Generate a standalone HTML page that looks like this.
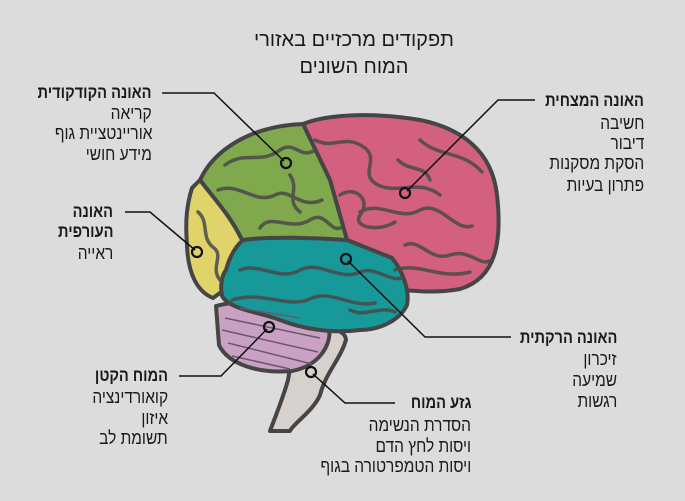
<!DOCTYPE html>
<html><head><meta charset="utf-8"><style>
body{margin:0;width:685px;height:501px;background:#dcdcdc;overflow:hidden;position:relative;font-family:"Liberation Sans","DejaVu Sans",sans-serif;color:#1a1a1a}
.t{position:absolute;direction:rtl;white-space:nowrap;font-size:18px;line-height:20px;transform:scaleX(0.86);transform-origin:right center}
.h{font-weight:bold;font-size:17px}
.ti{position:absolute;left:0;width:708px;text-align:center;direction:rtl;font-size:20px;line-height:24px}
svg{position:absolute;left:0;top:0}
</style></head><body>
<svg width="685" height="501" viewBox="0 0 685 501">
<g stroke="#454545" stroke-width="4" stroke-linejoin="round">
<path d="M300,335 C318,326 345,326 346,340 C340,360 326,372 320,395 C314,410 292,425 290,431 L270,431 C276,415 284,395 288,380 C292,360 290,345 300,335 Z" fill="#d6d1cc"/>
<path d="M216,306 C245,298 300,301 328,320 C335,345 318,366 292,371 C258,374 228,364 219,345 Z" fill="#c9a2c3"/>
<path d="M303,124 C330,113 380,113 420,120 C460,128 492,150 497,195 C502,240 497,278 460,289 C432,294 412,290 400,290 L392,258 L347,240 L330,180 Z" fill="#d4607f"/>
<path d="M200,180 C214,150 250,126 303,124 L330,180 L347,240 L242,240 C230,215 215,200 200,180 Z" fill="#7fa94c"/>
<path d="M192,188 L200,180 C215,200 230,215 242,240 L224,290 L213,298 C198,292 188,275 187,245 C185,220 187,204 192,188 Z" fill="#dfd36a"/>
<path d="M243,240 C270,236 320,238 347,240 L392,258 C402,270 410,290 407,305 C400,320 380,330 360,330 C330,334 300,328 280,320 C260,312 230,310 222,296 C220,285 222,275 226,270 C230,255 236,246 243,240 Z" fill="#17999a"/>
</g>
<g fill="none" stroke="#4a4a4a" stroke-width="3.5" stroke-linecap="round" opacity="0.85">
<path d="M315,140 C335,150 345,133 365,148 C380,160 358,175 378,185 C398,195 418,178 440,195"/>
<path d="M340,195 C355,185 372,200 360,215 C352,228 380,232 395,222"/>
<path d="M360,212 C380,200 400,222 420,210 C440,200 455,232 472,226"/>
<path d="M405,245 C420,238 430,262 450,255 C470,248 480,268 492,260"/>
<path d="M420,140 C440,158 462,150 482,172"/>
<path d="M398,160 C410,172 425,165 430,180"/>
<path d="M395,270 C420,262 440,280 470,272"/>
<path d="M225,165 C245,150 260,165 280,150 C295,140 300,160 315,150"/>
<path d="M218,190 C240,182 255,205 275,195 C290,187 300,210 322,200"/>
<path d="M260,228 C270,212 290,232 310,220 C325,210 330,232 340,228"/>
<path d="M290,175 C300,190 285,200 300,212"/>
<path d="M240,270 C260,262 280,282 300,270 C320,260 340,282 360,272 C375,266 390,282 402,278"/>
<path d="M232,300 C262,290 290,310 312,298 C332,290 352,308 375,303"/>
<path d="M350,310 C365,318 380,305 395,312"/>
<path d="M198,212 C210,222 200,238 214,248 C224,256 210,268 220,280"/>
</g>
<g fill="none" stroke="#6b5670" stroke-width="1.5">
<path d="M225,318 L320,338 M222,330 L318,352 M228,343 L312,364 M232,356 L290,369 M240,308 L300,318"/>
</g>
<g fill="none" stroke="#111" stroke-width="1.5">
<polyline points="162,93 214,93 284,161"/>
<polyline points="535,100 498,100 407,191"/>
<polyline points="125,212 150,212 195,250"/>
<polyline points="511,337 425,337 348,261"/>
<polyline points="179,376 221,376 267,329"/>
<polyline points="395,403 345,403 313,374"/>
</g>
<g fill="none" stroke="#111" stroke-width="2.2">
<circle cx="286" cy="163" r="5"/><circle cx="405" cy="193" r="5"/><circle cx="197" cy="252" r="5"/>
<circle cx="346" cy="259" r="5"/><circle cx="269" cy="327" r="5"/><circle cx="311" cy="372" r="5"/>
</g>
</svg>
<div class="ti" style="top:28px">תפקודים מרכזיים באזורי</div>
<div class="ti" style="top:55px">המוח השונים</div>

<div class="t h" style="right:533px;top:83px">האונה הקודקודית</div>
<div class="t" style="right:533px;top:103px">קריאה</div>
<div class="t" style="right:533px;top:123px">אוריינטציית גוף</div>
<div class="t" style="right:533px;top:144px">מידע חושי</div>

<div class="t h" style="right:41px;top:91px">האונה המצחית</div>
<div class="t" style="right:41px;top:113px">חשיבה</div>
<div class="t" style="right:41px;top:133px">דיבור</div>
<div class="t" style="right:41px;top:153px">הסקת מסקנות</div>
<div class="t" style="right:41px;top:175px">פתרון בעיות</div>

<div class="t h" style="right:572px;top:202px">האונה</div>
<div class="t h" style="right:572px;top:222px">העורפית</div>
<div class="t" style="right:572px;top:243px">ראייה</div>

<div class="t h" style="right:68px;top:328px">האונה הרקתית</div>
<div class="t" style="right:68px;top:349px">זיכרון</div>
<div class="t" style="right:68px;top:370px">שמיעה</div>
<div class="t" style="right:68px;top:391px">רגשות</div>

<div class="t h" style="right:517px;top:366px">המוח הקטן</div>
<div class="t" style="right:517px;top:387px">קואורדינציה</div>
<div class="t" style="right:517px;top:408px">איזון</div>
<div class="t" style="right:517px;top:428px">תשומת לב</div>

<div class="t h" style="right:214px;top:393px">גזע המוח</div>
<div class="t" style="right:214px;top:415px">הסדרת הנשימה</div>
<div class="t" style="right:214px;top:436px">ויסות לחץ הדם</div>
<div class="t" style="right:214px;top:456px">ויסות הטמפרטורה בגוף</div>
</body></html>
